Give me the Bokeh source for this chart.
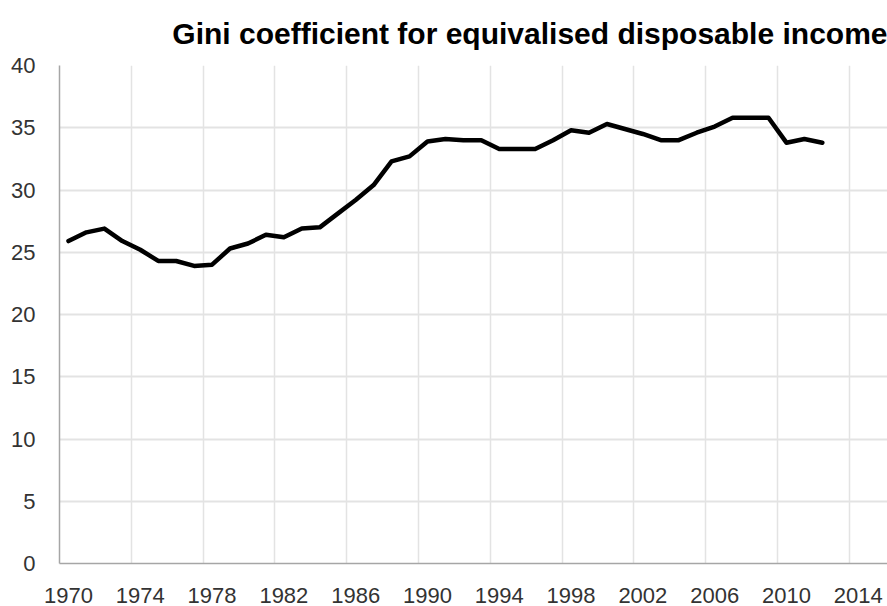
from bokeh.plotting import figure
from bokeh.models import FixedTicker, Range1d
from bokeh.embed import file_html
from bokeh.resources import INLINE

title_text = "Gini coefficient for equivalised disposable income"
years = list(range(1970, 2013))
gini = [25.9, 26.6, 26.9, 25.9, 25.2, 24.3, 24.3, 23.9, 24.0, 25.3,
        25.7, 26.4, 26.2, 26.9, 27.0, 28.1, 29.2, 30.4, 32.3, 32.7,
        33.9, 34.1, 34.0, 34.0, 33.3, 33.3, 33.3, 34.0, 34.8, 34.6,
        35.3, 34.9, 34.5, 34.0, 34.0, 34.6, 35.1, 35.8, 35.8, 35.8,
        33.8, 34.1, 33.8]
x_tick_years = list(range(1970, 2015, 4))
y_ticks = [0, 5, 10, 15, 20, 25, 30, 35, 40]

p = figure(width=887, height=606, output_backend="svg", toolbar_location=None,
           x_range=Range1d(1969.5, 2015.63), y_range=Range1d(0, 40),
           min_border_left=59, min_border_right=0, min_border_top=65,
           min_border_bottom=43, title=title_text)

p.outline_line_color = None
p.background_fill_color = "white"
p.border_fill_color = "white"

p.title.text_font = "Liberation Sans"
p.title.text_font_size = "30px"
p.title.text_font_style = "bold"
p.title.text_color = "black"
p.title.align = "right"
p.title.vertical_align = "top"
p.title.standoff = 27

p.line(years, gini, line_color="black", line_width=4.5, line_join="round", line_cap="round")

for ax in (p.xaxis[0], p.yaxis[0]):
    ax.major_tick_out = 0
    ax.major_tick_in = 0
    ax.minor_tick_out = 0
    ax.minor_tick_in = 0
    ax.axis_line_color = "#a6a6a6"
    ax.axis_line_width = 1.5
    ax.major_label_text_font = "Liberation Sans"
    ax.major_label_text_font_size = "22px"
    ax.major_label_text_color = "#333333"

p.xaxis.ticker = FixedTicker(ticks=x_tick_years)
p.xaxis.major_label_standoff = 24
p.yaxis.ticker = FixedTicker(ticks=y_ticks)
p.yaxis.major_label_standoff = 24

p.xgrid.ticker = FixedTicker(ticks=[y - 0.5 for y in range(1974, 2015, 4)])
p.xgrid.grid_line_color = "#e3e3e3"
p.xgrid.grid_line_width = 1.5
p.ygrid.ticker = FixedTicker(ticks=y_ticks[1:])
p.ygrid.grid_line_color = "#e3e3e3"
p.ygrid.grid_line_width = 2

open("out.html", "w").write(file_html(p, INLINE))
